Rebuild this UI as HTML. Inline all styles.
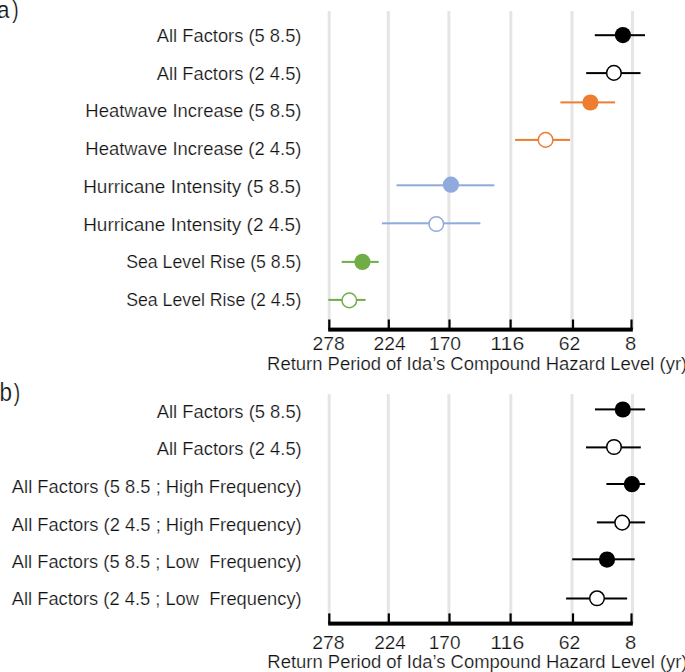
<!DOCTYPE html><html><head><meta charset="utf-8"><style>html,body{margin:0;padding:0;background:#fff;overflow:hidden}svg{display:block}text{font-family:"Liberation Sans",sans-serif;fill:#111;stroke:#fff;stroke-width:0.22px}</style></head><body>
<div id="w">
<svg width="685" height="672" viewBox="0 0 685 672">
<rect width="685" height="672" fill="#fff"/>
<rect x="327.70" y="11.0" width="3.0" height="318.60" fill="#E5E5E5"/>
<rect x="386.80" y="11.0" width="3.0" height="318.60" fill="#E5E5E5"/>
<rect x="447.40" y="11.0" width="3.0" height="318.60" fill="#E5E5E5"/>
<rect x="509.30" y="11.0" width="3.0" height="318.60" fill="#E5E5E5"/>
<rect x="570.50" y="11.0" width="3.0" height="318.60" fill="#E5E5E5"/>
<rect x="631.00" y="11.0" width="3.0" height="318.60" fill="#E5E5E5"/>
<rect x="328.20" y="327.60" width="304.60" height="4.0" fill="#000"/>
<rect x="328.20" y="319.5" width="2.2" height="10.10" fill="#000"/>
<rect x="387.70" y="319.5" width="2.2" height="10.10" fill="#000"/>
<rect x="448.40" y="319.5" width="2.2" height="10.10" fill="#000"/>
<rect x="509.50" y="319.5" width="2.2" height="10.10" fill="#000"/>
<rect x="571.90" y="319.5" width="2.2" height="10.10" fill="#000"/>
<rect x="630.40" y="319.5" width="2.2" height="10.10" fill="#000"/>
<rect x="594.80" y="34.20" width="50.20" height="2.0" fill="#000000"/>
<circle cx="622.9" cy="35.1" r="8.1" fill="#000000"/>
<rect x="586.20" y="72.10" width="54.30" height="2.0" fill="#000000"/>
<circle cx="613.9" cy="72.9" r="7.3" fill="#fff" stroke="#000000" stroke-width="1.5"/>
<rect x="560.40" y="101.40" width="54.70" height="2.0" fill="#ED7D31"/>
<circle cx="590.4" cy="102.5" r="8.1" fill="#ED7D31"/>
<rect x="515.10" y="138.90" width="55.00" height="2.0" fill="#ED7D31"/>
<circle cx="545.6" cy="139.9" r="7.3" fill="#fff" stroke="#ED7D31" stroke-width="1.5"/>
<rect x="396.60" y="184.30" width="97.70" height="2.0" fill="#8FAADC"/>
<circle cx="450.9" cy="184.7" r="8.1" fill="#8FAADC"/>
<rect x="381.90" y="222.30" width="98.50" height="2.0" fill="#8FAADC"/>
<circle cx="436.3" cy="224.0" r="7.3" fill="#fff" stroke="#8FAADC" stroke-width="1.5"/>
<rect x="341.70" y="260.90" width="37.00" height="2.0" fill="#70AD47"/>
<circle cx="362.4" cy="261.9" r="8.1" fill="#70AD47"/>
<rect x="328.30" y="298.90" width="37.30" height="2.0" fill="#70AD47"/>
<circle cx="349.3" cy="300.4" r="7.3" fill="#fff" stroke="#70AD47" stroke-width="1.5"/>
<rect x="327.70" y="394.1" width="3.0" height="229.50" fill="#E5E5E5"/>
<rect x="386.80" y="394.1" width="3.0" height="229.50" fill="#E5E5E5"/>
<rect x="447.40" y="394.1" width="3.0" height="229.50" fill="#E5E5E5"/>
<rect x="509.30" y="394.1" width="3.0" height="229.50" fill="#E5E5E5"/>
<rect x="570.50" y="394.1" width="3.0" height="229.50" fill="#E5E5E5"/>
<rect x="631.00" y="394.1" width="3.0" height="229.50" fill="#E5E5E5"/>
<rect x="328.20" y="621.60" width="304.60" height="4.0" fill="#000"/>
<rect x="328.20" y="613.4" width="2.2" height="10.20" fill="#000"/>
<rect x="387.70" y="613.4" width="2.2" height="10.20" fill="#000"/>
<rect x="448.40" y="613.4" width="2.2" height="10.20" fill="#000"/>
<rect x="509.50" y="613.4" width="2.2" height="10.20" fill="#000"/>
<rect x="571.90" y="613.4" width="2.2" height="10.20" fill="#000"/>
<rect x="630.40" y="613.4" width="2.2" height="10.20" fill="#000"/>
<rect x="595.00" y="408.40" width="50.10" height="2.0" fill="#000000"/>
<circle cx="622.8" cy="409.5" r="8.1" fill="#000000"/>
<rect x="586.00" y="446.40" width="54.80" height="2.0" fill="#000000"/>
<circle cx="614.0" cy="447.0" r="7.3" fill="#fff" stroke="#000000" stroke-width="1.5"/>
<rect x="606.40" y="483.00" width="38.70" height="2.0" fill="#000000"/>
<circle cx="631.9" cy="484.2" r="8.1" fill="#000000"/>
<rect x="596.90" y="521.40" width="48.20" height="2.0" fill="#000000"/>
<circle cx="622.2" cy="522.6" r="7.3" fill="#fff" stroke="#000000" stroke-width="1.5"/>
<rect x="572.20" y="558.30" width="62.50" height="2.0" fill="#000000"/>
<circle cx="607.0" cy="559.6" r="8.1" fill="#000000"/>
<rect x="566.10" y="597.50" width="61.00" height="2.0" fill="#000000"/>
<circle cx="597.0" cy="598.3" r="7.3" fill="#fff" stroke="#000000" stroke-width="1.5"/>
<text x="156.80" y="41.90" font-size="18.2" textLength="144.64" lengthAdjust="spacingAndGlyphs">All Factors (5 8.5)</text>
<text x="156.88" y="79.60" font-size="18.2" textLength="144.58" lengthAdjust="spacingAndGlyphs">All Factors (2 4.5)</text>
<text x="85.39" y="117.40" font-size="18.2" textLength="216.14" lengthAdjust="spacingAndGlyphs">Heatwave Increase (5 8.5)</text>
<text x="85.39" y="154.90" font-size="18.2" textLength="216.14" lengthAdjust="spacingAndGlyphs">Heatwave Increase (2 4.5)</text>
<text x="83.17" y="193.10" font-size="18.2" textLength="218.29" lengthAdjust="spacingAndGlyphs">Hurricane Intensity (5 8.5)</text>
<text x="83.17" y="230.60" font-size="18.2" textLength="218.29" lengthAdjust="spacingAndGlyphs">Hurricane Intensity (2 4.5)</text>
<text x="126.21" y="268.40" font-size="18.2" textLength="175.10" lengthAdjust="spacingAndGlyphs">Sea Level Rise (5 8.5)</text>
<text x="126.21" y="306.00" font-size="18.2" textLength="175.10" lengthAdjust="spacingAndGlyphs">Sea Level Rise (2 4.5)</text>
<text x="156.79" y="417.60" font-size="18.2" textLength="144.95" lengthAdjust="spacingAndGlyphs">All Factors (5 8.5)</text>
<text x="156.79" y="454.90" font-size="18.2" textLength="144.95" lengthAdjust="spacingAndGlyphs">All Factors (2 4.5)</text>
<text x="11.83" y="492.60" font-size="18.2" textLength="289.71" lengthAdjust="spacingAndGlyphs">All Factors (5 8.5 ; High Frequency)</text>
<text x="11.83" y="530.60" font-size="18.2" textLength="289.71" lengthAdjust="spacingAndGlyphs">All Factors (2 4.5 ; High Frequency)</text>
<text x="11.83" y="567.80" font-size="18.2" textLength="289.88" lengthAdjust="spacingAndGlyphs">All Factors (5 8.5 ; Low  Frequency)</text>
<text x="11.83" y="605.10" font-size="18.2" textLength="289.88" lengthAdjust="spacingAndGlyphs">All Factors (2 4.5 ; Low  Frequency)</text>
<text x="312.45" y="349.80" font-size="17.6" textLength="32.28" lengthAdjust="spacingAndGlyphs">278</text>
<text x="373.47" y="349.80" font-size="17.6" textLength="32.20" lengthAdjust="spacingAndGlyphs">224</text>
<text x="428.91" y="349.80" font-size="17.6" textLength="32.19" lengthAdjust="spacingAndGlyphs">170</text>
<text x="490.39" y="349.80" font-size="17.6" textLength="33.88" lengthAdjust="spacingAndGlyphs">116</text>
<text x="558.70" y="349.80" font-size="17.6" textLength="21.54" lengthAdjust="spacingAndGlyphs">62</text>
<text x="625.09" y="349.80" font-size="17.6" textLength="11.28" lengthAdjust="spacingAndGlyphs">8</text>
<text x="312.17" y="648.50" font-size="17.6" textLength="32.44" lengthAdjust="spacingAndGlyphs">278</text>
<text x="374.16" y="648.50" font-size="17.6" textLength="31.71" lengthAdjust="spacingAndGlyphs">224</text>
<text x="428.82" y="648.50" font-size="17.6" textLength="31.67" lengthAdjust="spacingAndGlyphs">170</text>
<text x="490.39" y="648.50" font-size="17.6" textLength="33.88" lengthAdjust="spacingAndGlyphs">116</text>
<text x="558.70" y="648.50" font-size="17.6" textLength="21.54" lengthAdjust="spacingAndGlyphs">62</text>
<text x="625.09" y="648.50" font-size="17.6" textLength="11.28" lengthAdjust="spacingAndGlyphs">8</text>
<text x="267.10" y="369.90" font-size="18.0" textLength="420.08" lengthAdjust="spacingAndGlyphs">Return Period of Ida’s Compound Hazard Level (yr)</text>
<text x="267.33" y="667.80" font-size="18.0" textLength="420.22" lengthAdjust="spacingAndGlyphs">Return Period of Ida’s Compound Hazard Level (yr)</text>
<text x="-3" y="18.2" font-size="24.3" textLength="12.5" lengthAdjust="spacingAndGlyphs">a</text>
<text x="12.3" y="18.2" font-size="24.4" textLength="6.4" lengthAdjust="spacingAndGlyphs">)</text>
<text x="-0.5" y="401.4" font-size="25" textLength="12.5" lengthAdjust="spacingAndGlyphs">b</text>
<text x="13.7" y="401.2" font-size="24.4" textLength="6.4" lengthAdjust="spacingAndGlyphs">)</text>
</svg></div></body></html>
